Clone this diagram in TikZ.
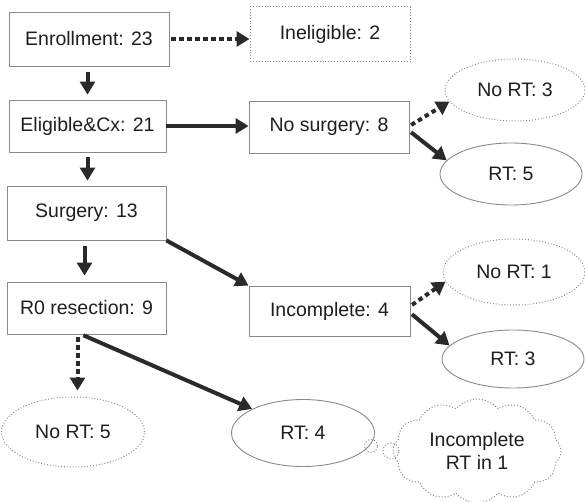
\documentclass[tikz,border=0pt]{standalone}
\usepackage{fontspec}
\setmainfont{Liberation Sans}
\usetikzlibrary{arrows.meta,shapes.geometric,shapes.symbols}
\definecolor{ink}{HTML}{1E1E1E}
\definecolor{edge}{HTML}{8A8A8A}
\definecolor{arrowc}{HTML}{2A2A2A}
\begin{document}
\begin{tikzpicture}[x=1pt,y=-1pt,
  lbl/.style={font=\fontsize{19.5}{23}\selectfont, text=ink},
  box/.style={lbl, draw=edge, line width=0.9pt, inner sep=0pt},
  dbox/.style={box, dotted, line width=1pt},
  oval/.style={lbl, ellipse, draw=edge, line width=0.9pt, inner sep=0pt},
  doval/.style={oval, dotted, line width=1pt},
  arr/.style={draw=arrowc, line width=4pt, -{Triangle[length=13pt,width=15pt]}},
  darr/.style={arr, dash pattern=on 4.5pt off 3.5pt},
  bubble/.style={circle, draw=edge, dotted, line width=1pt, inner sep=0pt}
]
\useasboundingbox (0,0) rectangle (585,502);

\node[box,  minimum width=160pt, minimum height=54pt] (enr)  at (89,39)    {Enrollment: 23};
\node[dbox, minimum width=160pt, minimum height=55pt] (inel) at (330,34.5) {Ineligible: 2};
\node[box,  minimum width=157pt, minimum height=52pt] (elig) at (87.5,126) {Eligible\&Cx: 21};
\node[box,  minimum width=160pt, minimum height=52pt] (nos)  at (329,127)  {No surgery: 8};
\node[box,  minimum width=159pt, minimum height=54pt] (surg) at (86.5,213) {Surgery: 13};
\node[box,  minimum width=159pt, minimum height=52pt] (rzero) at (86.5,308) {R0 resection: 9};
\node[box,  minimum width=161pt, minimum height=50pt] (inc)  at (329.5,311) {Incomplete: 4};

\node[doval, minimum width=140pt, minimum height=62pt] (nort3) at (515,90)  {No RT: 3};
\node[oval,  minimum width=142pt, minimum height=62pt] (rt5)   at (511,174) {RT: 5};
\node[doval, minimum width=142pt, minimum height=66pt] (nort1) at (514,272) {No RT: 1};
\node[oval,  minimum width=142pt, minimum height=58pt] (rt3)   at (513,359) {RT: 3};
\node[doval, minimum width=143pt, minimum height=70pt] (nort5) at (73,432)  {No RT: 5};
\node[oval,  minimum width=143pt, minimum height=67pt] (rt4)   at (303,433) {RT: 4};

\node[lbl, cloud, cloud puffs=12, cloud puff arc=100, aspect=1.6, draw=edge, dotted, line width=1pt,
      minimum width=168pt, minimum height=104pt, align=center, inner sep=0pt] (cloud) at (477,451)
      {Incomplete\\RT in 1};
\node[bubble, minimum size=13pt] (b1) at (371,446) {};
\node[bubble, minimum size=16pt] (b2) at (391,451) {};

\draw[darr, shorten <=2pt] (enr.east) -- (enr.east -| inel.west);
\draw[arr, shorten <=6pt, shorten >=5pt] (enr.south -| elig.north) -- (elig.north);
\draw[arr, shorten <=5pt, shorten >=5pt] (elig.south) -- (elig.south |- surg.north);
\draw[arr] (elig.east) -- (elig.east -| nos.west);
\draw[darr, shorten <=2pt] ([yshift=1pt]nos.east) -- (nort3.190);
\draw[arr, shorten <=2pt] ([yshift=-4pt]nos.east) -- (rt5.168);
\draw[arr, shorten <=6pt, shorten >=6pt] ([xshift=-2pt]surg.south) -- ([xshift=-2pt]surg.south |- rzero.north);
\draw[arr] (surg.south east) -- (inc.north west);
\draw[darr, shorten <=2pt] ([yshift=5pt]inc.east) -- (nort1.188);
\draw[arr, shorten <=2pt] ([yshift=-2pt]inc.east) -- (rt3.168);
\draw[darr, shorten <=3pt, shorten >=6pt] ([xshift=-9pt]rzero.south) -- ([xshift=-9pt]rzero.south |- nort5.north);
\draw[arr, shorten <=2pt] ([xshift=-5pt]rzero.south) -- (rt4.north west);
\end{tikzpicture}
\end{document}
